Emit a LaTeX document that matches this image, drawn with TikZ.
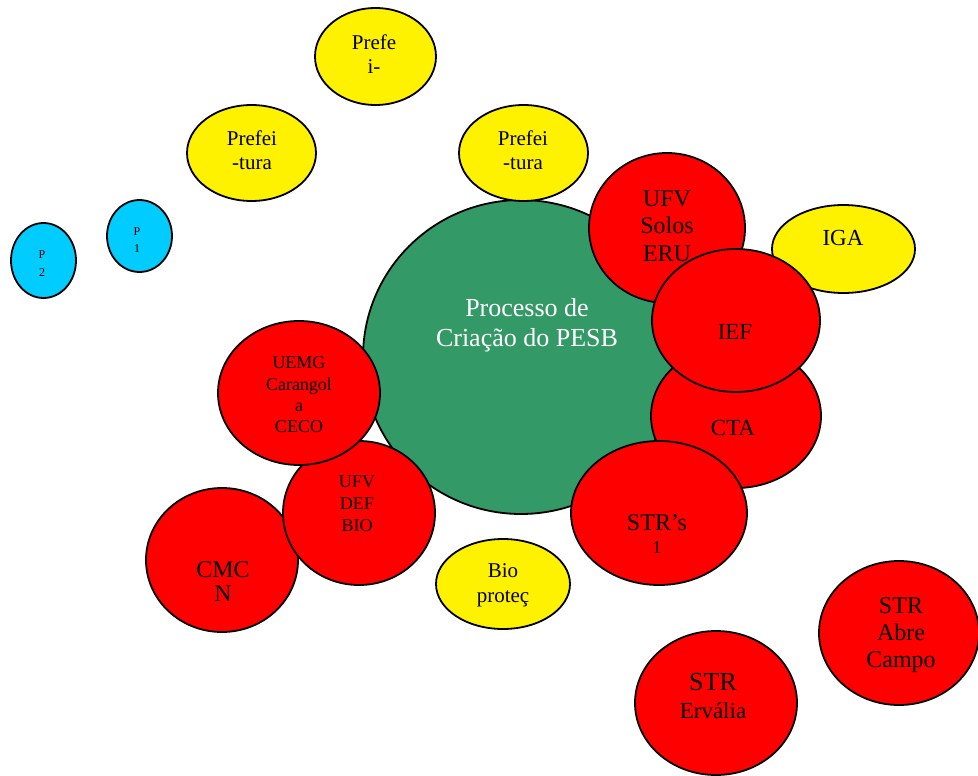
\documentclass[tikz,border=0pt]{standalone}
\usepackage{fontspec}
\setmainfont{Liberation Serif}
\usepackage{tikz}
\usetikzlibrary{shapes.geometric}

\definecolor{seagreen}{RGB}{51,153,102}
\definecolor{skyblue}{RGB}{0,204,255}

\begin{document}
\begin{tikzpicture}[
		x=1pt, y=-1pt,
		blob/.style={ellipse, draw=black, line width=1.8pt, inner sep=0pt},
		redblob/.style={blob, fill=red},
		yelblob/.style={blob, fill=yellow},
		blueblob/.style={blob, fill=skyblue},
		lbl/.style={align=center, inner sep=0pt, text=black},
		fs/.style={font=\fontsize{#1}{#1*1.15}\selectfont}
		]
	\useasboundingbox (0,0) rectangle (978,776);

	% Centre
	\node[blob, fill=seagreen, minimum width=316pt, minimum height=314pt] (pesb) at (521,357) {};
	\node[lbl, text=white, font=\fontsize{26}{30}\selectfont] (pesb t) at (527,325) {Processo de\\Criação do PESB};

	% P1 / P2
	\node[blueblob, minimum width=65pt, minimum height=75pt] (p2) at (43.5,260.5) {};
	\node[lbl, font=\fontsize{12}{18}\selectfont] (p2 t) at (42,264) {P\\2};
	\node[blueblob, minimum width=65pt, minimum height=72pt] (p1) at (139.5,236) {};
	\node[lbl, font=\fontsize{12}{17}\selectfont] (p1 t) at (137,240) {P\\1};

	% Prefeituras
	\node[yelblob, minimum width=121pt, minimum height=97pt] (pref a) at (375.5,56.5) {};
	\node[lbl, font=\fontsize{21}{24}\selectfont] (pref a t) at (374,54) {Prefe\\i-};
	\node[yelblob, minimum width=129pt, minimum height=96pt] (pref b) at (251.5,153) {};
	\node[lbl, font=\fontsize{21}{24}\selectfont] (pref b t) at (252,150) {Prefei\\-tura};
	\node[yelblob, minimum width=129pt, minimum height=96pt] (pref c) at (523.5,153) {};
	\node[lbl, font=\fontsize{21}{24}\selectfont] (pref c t) at (523,150) {Prefei\\-tura};

	% Right side
	\node[redblob, minimum width=156pt, minimum height=150pt] (solos) at (667,228) {};
	\node[lbl, font=\fontsize{24}{27.5}\selectfont] (solos t) at (667,226) {UFV\\Solos\\ERU};
	\node[redblob, minimum width=170pt, minimum height=144pt] (cta) at (736,416) {};
	\node[lbl, font=\fontsize{23}{27}\selectfont] (cta t) at (733,428) {CTA};
	\node[yelblob, minimum width=143pt, minimum height=88pt] (iga) at (843.5,249) {};
	\node[lbl, font=\fontsize{23}{27}\selectfont] (iga t) at (843,238) {IGA};
	\node[redblob, minimum width=168pt, minimum height=143pt] (ief) at (736,320.5) {};
	\node[lbl, font=\fontsize{23}{27}\selectfont] (ief t) at (735,332) {IEF};
	\node[redblob, minimum width=176pt, minimum height=144pt] (strs) at (659,513) {};
	\node[lbl, font=\fontsize{24}{23}\selectfont] (strs t) at (657,534) {STR’s\\{\fontsize{18}{20}\selectfont 1}};

	% Left side
	\node[redblob, minimum width=152pt, minimum height=144pt] (cmcn) at (222,560) {};
	\node[lbl, font=\fontsize{24}{24}\selectfont] (cmcn t) at (223,582) {CMC\\N};
	\node[redblob, minimum width=152pt, minimum height=144pt] (def) at (359,513) {};
	\node[lbl, font=\fontsize{18}{22}\selectfont] (def t) at (357,504) {UFV\\DEF\\BIO};
	\node[redblob, minimum width=162pt, minimum height=144pt] (uemg) at (299,393) {};
	\node[lbl, font=\fontsize{18}{21.3}\selectfont] (uemg t) at (299,395) {UEMG\\Carangol\\a\\CECO};

	% Bottom
	\node[yelblob, minimum width=134pt, minimum height=90pt] (bio) at (503,584) {};
	\node[lbl, font=\fontsize{21}{25}\selectfont] (bio t) at (503,585) {Bio\\proteç};
	\node[redblob, minimum width=162pt, minimum height=144pt] (ervalia) at (716,703) {};
	\node[lbl, font=\fontsize{26}{28}\selectfont] (ervalia t) at (713,696) {STR\\{\fontsize{23}{25}\selectfont Ervália}};
	\node[redblob, minimum width=160pt, minimum height=144pt] (abre) at (899,633) {};
	\node[lbl, font=\fontsize{24}{27}\selectfont] (abre t) at (901,635) {STR\\Abre\\Campo};

\end{tikzpicture}
\end{document}
